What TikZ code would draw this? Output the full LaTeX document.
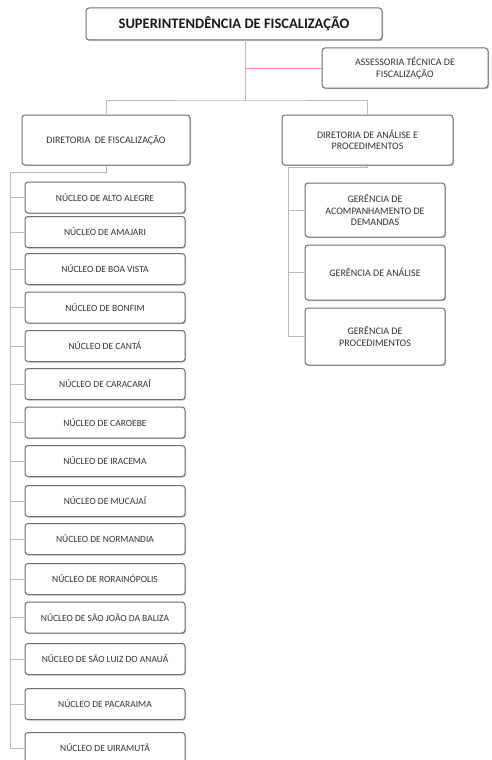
\documentclass[tikz,border=0pt]{standalone}
\usepackage{fontspec}
\setmainfont{Carlito}
\usetikzlibrary{shadows,positioning,calc}
\definecolor{linha}{RGB}{185,185,185}
\definecolor{borda}{RGB}{110,110,110}

\begin{document}
\begin{tikzpicture}[x=1pt,y=-1pt,
    caixa/.style={draw=borda,line width=1pt,rounded corners=3pt,fill=white,
        drop shadow={shadow xshift=1pt,shadow yshift=-1.2pt,fill=black!45},
        align=center,font=\fontsize{10}{11.5}\selectfont,text=black!80,inner sep=2pt},
    nucleo/.style={caixa,minimum width=160pt,minimum height=31pt,font=\fontsize{9.5}{11}\selectfont},
    liga/.style={draw=linha,line width=0.8pt}]
    \useasboundingbox (0,0) rectangle (491,760);

    % Topo
    \node[caixa,minimum width=296pt,minimum height=32pt,font=\fontsize{14.5}{16}\selectfont\bfseries,text=black!90]
        (sup) at (234,24) {SUPERINTEND\^ENCIA DE FISCALIZA\c{C}\~AO};
    \node[caixa,minimum width=166pt,minimum height=40pt] (ass) at (405,68)
        {ASSESSORIA T\'ECNICA DE\\FISCALIZA\c{C}\~AO};

    % Diretorias
    \node[caixa,minimum width=168pt,minimum height=50pt] (dirf) at (106,140)
        {DIRETORIA\ \ DE FISCALIZA\c{C}\~AO};
    \node[caixa,minimum width=171pt,minimum height=50pt] (dira) at (367.5,140)
        {DIRETORIA DE AN\'ALISE E\\PROCEDIMENTOS};

    % Gerencias
    \node[caixa,minimum width=140pt,minimum height=54pt] (ger1) at (375,210)
        {GER\^ENCIA DE\\ACOMPANHAMENTO DE\\DEMANDAS};
    \node[caixa,minimum width=140pt,minimum height=55pt] (ger2) at (375,272.5)
        {GER\^ENCIA DE AN\'ALISE};
    \node[caixa,minimum width=140pt,minimum height=57pt] (ger3) at (375,336.5)
        {GER\^ENCIA DE\\PROCEDIMENTOS};

    % Nucleos
    \foreach \i/\y/\nome in {1/197.5/ALTO ALEGRE, 2/232/AMAJARI, 3/269/BOA VISTA,
        4/307.5/BONFIM, 5/346/CANT\'A, 6/384/CARACARA\'I, 7/422.5/CAROEBE,
        8/461/IRACEMA, 9/501/MUCAJA\'I, 10/539/NORMANDIA, 11/579/RORAIN\'OPOLIS,
        12/617.5/S\~AO JO\~AO DA BALIZA, 13/659/S\~AO LUIZ DO ANAU\'A,
        14/704/PACARAIMA, 15/748/UIRAMUT\~A}
        \node[nucleo] (nuc\i) at (105,\y) {N\'UCLEO DE \nome};

    % Ligacoes
    \coordinate (hub) at (245,100);
    \coordinate (espE) at (10,172);
    \coordinate (espD) at (288,167);
    \draw[liga] (sup.south -| hub) -- (hub);
    \draw[liga,draw=red!45] (hub |- ass.west) -- (ass.west);
    \draw[liga] (dirf.north) |- (hub) -| (dira.north);
    \draw[liga] (dirf.south) |- (espE) |- (nuc15.west);
    \foreach \i in {1,...,14}
        \draw[liga] (espE |- nuc\i.west) -- (nuc\i.west);
    \draw[liga] (dira.south) |- (espD) |- (ger3.west);
    \foreach \i in {1,2}
        \draw[liga] (espD |- ger\i.west) -- (ger\i.west);
\end{tikzpicture}
\end{document}
